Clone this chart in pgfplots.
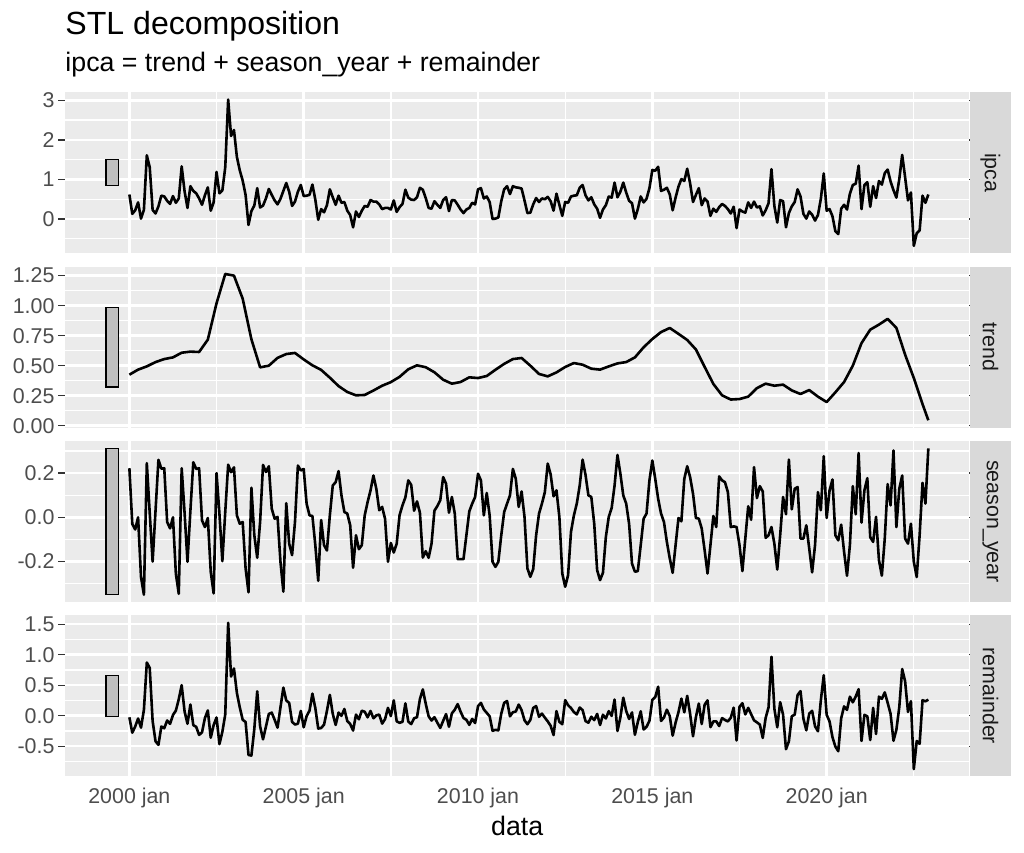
\documentclass[border=0pt]{standalone}
\usepackage{pgfplots}
\pgfplotsset{compat=1.18}
\usepackage{pgfplotstable}
\usepackage{fontspec}
\setmainfont{Liberation Sans}
\definecolor{panelbg}{HTML}{EBEBEB}
\definecolor{stripbg}{HTML}{D9D9D9}
\definecolor{ticklab}{HTML}{4D4D4D}
\definecolor{tickcol}{HTML}{333333}
\definecolor{striptext}{HTML}{1A1A1A}
\definecolor{barfill}{HTML}{BFBFBF}
\newcommand\tickfont{\fontsize{8.8}{10.56}\selectfont}

% m = months since 2000 jan
\pgfplotstableread{
m ipca season remainder
0 0.62 0.222 -0.027
1 0.13 -0.030 -0.279
2 0.22 -0.055 -0.178
3 0.42 0.000 -0.047
4 0.01 -0.270 -0.196
5 0.23 -0.350 0.095
6 1.61 0.245 0.871
7 1.31 0.020 0.784
8 0.23 -0.200 -0.088
9 0.14 0.030 -0.420
10 0.32 0.260 -0.478
11 0.59 0.220 -0.177
12 0.57 0.222 -0.207
13 0.46 -0.021 -0.079
14 0.38 -0.050 -0.134
15 0.58 0.000 0.011
16 0.41 -0.255 0.083
17 0.52 -0.346 0.271
18 1.33 0.222 0.500
19 0.70 0.020 0.069
20 0.28 -0.201 -0.133
21 0.83 0.030 0.183
22 0.71 0.249 -0.155
23 0.65 0.219 -0.184
24 0.52 0.222 -0.316
25 0.36 -0.014 -0.274
26 0.60 -0.044 -0.039
27 0.80 -0.003 0.086
28 0.21 -0.246 -0.362
29 0.42 -0.344 -0.155
30 1.19 0.200 -0.030
31 0.65 0.015 -0.466
32 0.72 -0.198 -0.265
33 1.31 0.025 0.021
34 3.02 0.238 1.523
35 2.10 0.204 0.641
36 2.25 0.226 0.774
37 1.57 0.009 0.375
38 1.23 -0.029 0.137
39 0.97 -0.021 -0.067
40 0.61 -0.231 -0.104
41 -0.15 -0.339 -0.644
42 0.20 0.134 -0.654
43 0.34 -0.081 -0.221
44 0.78 -0.183 0.399
45 0.29 -0.020 -0.176
46 0.34 0.237 -0.388
47 0.52 0.205 -0.180
48 0.76 0.231 0.029
49 0.61 0.039 0.049
50 0.47 -0.006 -0.067
51 0.37 0.002 -0.197
52 0.51 -0.201 0.135
53 0.71 -0.336 0.460
54 0.91 0.064 0.249
55 0.69 -0.119 0.209
56 0.33 -0.171 -0.102
57 0.44 -0.021 -0.145
58 0.69 0.234 -0.132
59 0.86 0.212 0.078
60 0.58 0.219 -0.191
61 0.59 0.062 -0.008
62 0.61 0.009 0.082
63 0.87 0.006 0.361
64 0.49 -0.126 0.126
65 -0.02 -0.287 -0.211
66 0.25 -0.012 -0.203
67 0.17 -0.126 -0.147
68 0.35 -0.150 0.078
69 0.75 0.009 0.341
70 0.55 0.144 0.029
71 0.36 0.159 -0.152
72 0.59 0.209 0.051
73 0.41 0.099 -0.003
74 0.43 0.024 0.109
75 0.21 0.017 -0.088
76 0.10 -0.036 -0.136
77 -0.21 -0.228 -0.244
78 0.19 -0.081 0.018
79 0.05 -0.144 -0.060
80 0.21 -0.126 0.081
81 0.33 0.009 0.065
82 0.31 0.069 -0.027
83 0.48 0.122 0.077
84 0.44 0.189 -0.042
85 0.44 0.129 0.005
86 0.37 0.032 0.018
87 0.25 0.047 -0.130
88 0.28 -0.006 -0.057
89 0.28 -0.201 0.128
90 0.24 -0.116 -0.007
91 0.47 -0.159 0.251
92 0.18 -0.120 -0.092
93 0.30 0.010 -0.117
94 0.38 0.054 -0.102
95 0.74 0.090 0.201
96 0.54 0.167 -0.097
97 0.49 0.147 -0.138
98 0.48 0.030 -0.042
99 0.55 0.072 -0.025
100 0.79 0.021 0.271
101 0.74 -0.182 0.430
102 0.53 -0.153 0.196
103 0.28 -0.183 -0.010
104 0.26 -0.119 -0.080
105 0.45 0.030 -0.025
106 0.36 0.051 -0.115
107 0.28 0.077 -0.201
108 0.48 0.182 -0.085
109 0.55 0.152 0.026
110 0.20 0.021 -0.182
111 0.48 0.092 0.038
112 0.47 0.017 0.098
113 0.36 -0.189 0.190
114 0.24 -0.189 0.065
115 0.15 -0.189 -0.038
116 0.24 -0.081 -0.069
117 0.28 0.027 -0.150
118 0.41 0.062 -0.053
119 0.37 0.092 -0.121
120 0.75 0.197 0.156
121 0.78 0.167 0.210
122 0.52 0.009 0.103
123 0.57 0.110 0.046
124 0.43 0.009 -0.010
125 0.00 -0.201 -0.248
126 0.01 -0.224 -0.232
127 0.04 -0.201 -0.241
128 0.45 -0.081 0.032
129 0.75 0.024 0.211
130 0.83 0.062 0.240
131 0.63 0.099 -0.011
132 0.83 0.219 0.056
133 0.80 0.174 0.068
134 0.79 0.047 0.182
135 0.77 0.117 0.089
136 0.47 0.002 -0.075
137 0.15 -0.231 -0.140
138 0.16 -0.269 -0.071
139 0.37 -0.234 0.127
140 0.53 -0.081 0.157
141 0.43 0.017 -0.018
142 0.52 0.062 0.034
143 0.50 0.114 -0.032
144 0.56 0.243 -0.094
145 0.45 0.194 -0.166
146 0.21 0.095 -0.318
147 0.64 0.122 0.074
148 0.36 0.002 -0.101
149 0.08 -0.254 -0.140
150 0.43 -0.314 0.255
151 0.41 -0.261 0.171
152 0.57 -0.066 0.125
153 0.59 0.009 0.059
154 0.60 0.062 0.021
155 0.79 0.144 0.133
156 0.86 0.261 0.091
157 0.60 0.192 -0.089
158 0.47 0.099 -0.115
159 0.55 0.092 -0.017
160 0.37 -0.029 -0.073
161 0.26 -0.239 0.029
162 0.03 -0.284 -0.153
163 0.24 -0.251 0.015
164 0.35 -0.089 -0.046
165 0.57 0.002 0.074
166 0.54 0.042 -0.004
167 0.92 0.144 0.265
168 0.55 0.282 -0.251
169 0.69 0.197 -0.030
170 0.92 0.099 0.295
171 0.67 0.062 0.078
172 0.46 -0.029 -0.054
173 0.40 -0.209 0.053
174 0.01 -0.246 -0.313
175 0.25 -0.243 -0.104
176 0.57 -0.126 0.071
177 0.42 -0.006 -0.227
178 0.51 0.017 -0.183
179 0.78 0.167 -0.086
180 1.24 0.257 0.261
181 1.22 0.174 0.305
182 1.32 0.084 0.475
183 0.71 0.017 -0.087
184 0.74 -0.021 -0.030
185 0.79 -0.111 0.098
186 0.62 -0.186 -0.008
187 0.22 -0.251 -0.327
188 0.54 -0.126 -0.115
189 0.82 -0.003 0.058
190 1.01 -0.018 0.280
191 0.96 0.174 0.055
192 1.27 0.231 0.325
193 0.90 0.182 0.030
194 0.43 0.107 -0.338
195 0.61 -0.003 -0.022
196 0.78 -0.006 0.199
197 0.35 -0.051 -0.137
198 0.52 -0.149 0.179
199 0.44 -0.254 0.251
200 0.08 -0.126 -0.189
201 0.26 0.006 -0.094
202 0.18 -0.044 -0.092
203 0.30 0.185 -0.170
204 0.38 0.167 -0.040
205 0.33 0.159 -0.070
206 0.25 0.114 -0.094
207 0.14 -0.044 -0.034
208 0.31 -0.041 0.132
209 -0.23 -0.044 -0.407
210 0.24 -0.126 0.144
211 0.19 -0.243 0.204
212 0.16 -0.096 0.021
213 0.42 0.050 0.128
214 0.28 -0.011 0.025
215 0.44 0.227 -0.076
216 0.29 0.087 -0.110
217 0.32 0.141 -0.146
218 0.09 0.117 -0.365
219 0.22 -0.093 -0.037
220 0.40 -0.081 0.137
221 1.26 -0.044 0.965
222 0.33 -0.119 0.116
223 -0.09 -0.236 -0.190
224 0.48 -0.081 0.222
225 0.45 0.092 0.016
226 -0.21 0.014 -0.550
227 0.15 0.261 -0.421
228 0.32 0.036 -0.010
229 0.43 0.129 0.017
230 0.75 0.137 0.339
231 0.57 -0.096 0.402
232 0.13 -0.096 -0.049
233 0.01 -0.036 -0.240
234 0.19 -0.141 0.034
235 0.11 -0.249 0.080
236 -0.04 -0.126 -0.174
237 0.10 0.114 -0.256
238 0.51 0.032 0.251
239 1.15 0.276 0.662
240 0.21 -0.003 0.016
241 0.25 0.122 -0.096
242 0.07 0.171 -0.352
243 -0.31 -0.081 -0.507
244 -0.38 -0.104 -0.583
245 0.26 -0.033 -0.042
246 0.36 -0.156 0.152
247 0.24 -0.264 0.095
248 0.64 -0.126 0.311
249 0.86 0.141 0.219
250 0.89 0.014 0.313
251 1.35 0.291 0.434
252 0.25 -0.024 -0.414
253 0.86 0.122 0.013
254 0.93 0.177 -0.010
255 0.31 -0.090 -0.400
256 0.83 -0.111 0.127
257 0.53 0.002 -0.300
258 0.96 -0.194 0.312
259 0.87 -0.264 0.276
260 1.16 -0.096 0.382
261 1.25 0.150 0.210
262 0.95 0.054 0.031
263 0.73 0.302 -0.412
264 0.54 -0.044 -0.231
265 1.01 0.129 0.140
266 1.62 0.189 0.765
267 1.06 -0.096 0.564
268 0.47 -0.119 0.062
269 0.67 -0.029 0.237
270 -0.68 -0.201 -0.876
271 -0.36 -0.270 -0.415
272 -0.29 -0.081 -0.461
273 0.59 0.156 0.254
274 0.41 0.062 0.235
275 0.62 0.312 0.263
}\stl

\pgfplotstableread{
m trend
0 0.425
3 0.467
6 0.494
9 0.530
12 0.555
15 0.569
18 0.608
21 0.617
24 0.614
27 0.717
30 1.020
33 1.264
36 1.250
39 1.058
42 0.720
45 0.486
48 0.500
51 0.565
54 0.597
57 0.606
60 0.552
63 0.503
66 0.465
69 0.400
72 0.330
75 0.281
78 0.253
81 0.256
84 0.293
87 0.333
90 0.363
93 0.407
96 0.470
99 0.503
102 0.487
105 0.445
108 0.383
111 0.350
114 0.364
117 0.403
120 0.397
123 0.414
126 0.466
129 0.515
132 0.555
135 0.564
138 0.500
141 0.431
144 0.411
147 0.444
150 0.489
153 0.522
156 0.508
159 0.475
162 0.467
165 0.494
168 0.519
171 0.530
174 0.569
177 0.653
180 0.722
183 0.780
186 0.814
189 0.765
192 0.714
195 0.635
198 0.490
201 0.348
204 0.253
207 0.218
210 0.222
213 0.242
216 0.313
219 0.350
222 0.333
225 0.342
228 0.294
231 0.264
234 0.297
237 0.242
240 0.197
243 0.278
246 0.364
249 0.500
252 0.688
255 0.800
258 0.842
261 0.890
264 0.815
267 0.592
270 0.397
273 0.180
275 0.045
}\trendtab

\pgfplotsset{
  stlpanel/.style={
    scale only axis, width=372.2pt, height=66.25pt,
    anchor=south west,
    xmin=-22.16, xmax=289.15,
    axis background/.style={fill=panelbg},
    axis line style={draw=none},
    grid=both,
    major grid style={white, line width=1.07pt},
    minor grid style={white, line width=0.53pt},
    xtick={0,60,120,180,240},
    minor xtick={30,90,150,210,270},
    tick align=outside,
    major tick length=2.75pt,
    minor tick length=0pt,
    tick style={tickcol, line width=0.53pt},
    xtick style={draw=none},
    xticklabels={},
    yticklabel style={font=\tickfont, text=ticklab, anchor=east, inner sep=0pt, xshift=-1.4pt},
    xticklabel style={font=\tickfont, text=ticklab, anchor=north, inner sep=0pt, yshift=-1.8pt},
    clip=true,
  },
  stlline/.style={black, line width=1.07pt, line join=round},
  stlbar/.style={draw=black, fill=barfill, line width=0.5pt},
}

\begin{document}
\begin{tikzpicture}
\path[use as bounding box] (0,0) rectangle (421.4pt,351.0pt);

% ipca
\begin{axis}[stlpanel, at={(26.75pt,246.79pt)},
  ymin=-0.865, ymax=3.205,
  ytick={0,1,2,3}, yticklabels={0,1,2,3},
  minor ytick={-0.5,0.5,1.5,2.5}]
\addplot[stlbar] coordinates {(-8.02,0.839) (-3.77,0.839) (-3.77,1.501) (-8.02,1.501)} --cycle;
\addplot[stlline] table[x=m, y=ipca] {\stl};
\end{axis}

% trend
\begin{axis}[stlpanel, at={(26.75pt,175.02pt)},
  ymin=-0.016, ymax=1.325,
  ytick={0,0.25,0.5,0.75,1,1.25}, yticklabels={0.00,0.25,0.50,0.75,1.00,1.25},
  minor ytick={0.125,0.375,0.625,0.875,1.125}]
\addplot[stlbar] coordinates {(-8.02,0.323) (-3.77,0.323) (-3.77,0.986) (-8.02,0.986)} --cycle;
\addplot[stlline] table[x=m, y=trend] {\trendtab};
\end{axis}

% season_year
\begin{axis}[stlpanel, at={(26.75pt,103.25pt)},
  ymin=-0.383, ymax=0.345,
  ytick={-0.2,0,0.2}, yticklabels={-0.2,0.0,0.2},
  minor ytick={-0.3,-0.1,0.1,0.3}]
\addplot[stlbar] coordinates {(-8.02,-0.350) (-3.77,-0.350) (-3.77,0.312) (-8.02,0.312)} --cycle;
\addplot[stlline] table[x=m, y=season] {\stl};
\end{axis}

% remainder
\begin{axis}[stlpanel, at={(26.75pt,31.48pt)},
  ymin=-0.996, ymax=1.643,
  ytick={-0.5,0,0.5,1,1.5}, yticklabels={-0.5,0.0,0.5,1.0,1.5},
  minor ytick={-0.75,-0.25,0.25,0.75,1.25},
  xtick style={tickcol, line width=0.53pt},
  xticklabels={2000 jan,2005 jan,2010 jan,2015 jan,2020 jan}]
\addplot[stlbar] coordinates {(-8.02,-0.008) (-3.77,-0.008) (-3.77,0.655) (-8.02,0.655)} --cycle;
\addplot[stlline] table[x=m, y=remainder] {\stl};
\end{axis}

% strips
\foreach \yb/\lab in {246.79/ipca, 175.02/trend, 103.25/season\_year, 31.48/remainder}{
  \fill[stripbg] (399.3pt,\yb pt) rectangle (415.9pt,\yb pt+66.25pt);
  \node[rotate=-90, font=\tickfont, text=striptext, inner sep=0pt] at (407.6pt,\yb pt+33.125pt) {\lab};
}

% titles
\node[anchor=base west, inner sep=0pt, font=\fontsize{13.2}{15.8}\selectfont] at (26.75pt,337.0pt) {STL decomposition};
\node[anchor=base west, inner sep=0pt, font=\fontsize{11}{13.2}\selectfont] at (26.75pt,321.4pt) {ipca = trend + season\_year + remainder};
\node[anchor=base, inner sep=0pt, font=\fontsize{11}{13.2}\selectfont] at (212.85pt,7.1pt) {data};
\end{tikzpicture}
\end{document}
